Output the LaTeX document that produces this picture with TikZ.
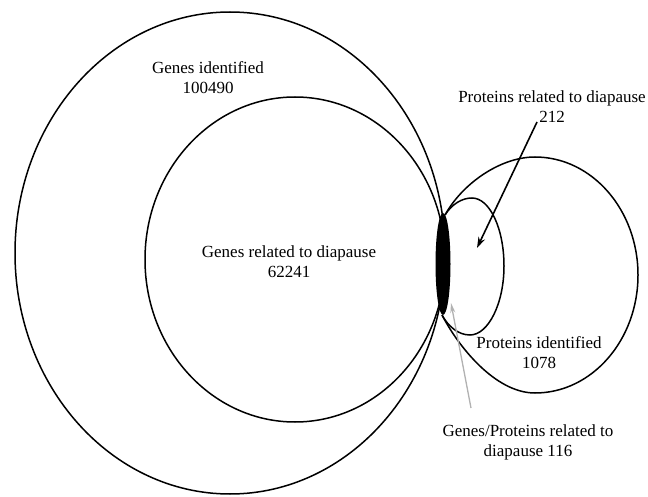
\documentclass[tikz,border=0pt]{standalone}
\usepackage{fontspec}
\setmainfont{Liberation Serif}
\usetikzlibrary{arrows.meta}
\begin{document}
\begin{tikzpicture}[x=1pt,y=1pt,
  lbl/.style={align=center,inner sep=0pt,font=\fontsize{17}{20}\selectfont},
  setline/.style={line width=1.5pt},
  blackarrow/.style={line width=1.6pt,-{Stealth[length=11pt,width=7pt]}},
  grayarrow/.style={draw=black!30,line width=1.3pt,-{Stealth[length=10pt,width=5pt]}}]
\useasboundingbox (0,0) rectangle (648,496);
% sets
\draw[setline] (230,243) ellipse (215 and 241);
\draw[setline] (295,236.5) ellipse (150 and 162.5);
\coordinate (A) at (445,281);
\coordinate (C) at (442,181);
\coordinate (T) at (535,339);
\coordinate (R) at (638,221);
\coordinate (B) at (535,103);
\draw[setline] (A) .. controls (462,312) and (500,339) .. (T)
  .. controls (591.9,339) and (638,286.1) .. (R)
  .. controls (638,155.9) and (591.9,103) .. (B)
  .. controls (495,103) and (458,150) .. (C);
\coordinate (T2) at (472,298);
\coordinate (R2) at (504,230);
\coordinate (B2) at (470,161);
\draw[setline] (A) .. controls (452,292) and (462,298) .. (T2)
  .. controls (489.7,298) and (504,267.5) .. (R2)
  .. controls (504,192) and (488,161) .. (B2)
  .. controls (458,161) and (448,170) .. (C);
\fill (443,232) ellipse (7.5 and 51);
% labels
\node[lbl] (g1) at (208,418) {Genes identified\\100490};
\node[lbl] (g2) at (289,234) {Genes related to diapause\\62241};
\node[lbl] (p1) at (552,389) {Proteins related to diapause\\212};
\node[lbl] (p2) at (539,143) {Proteins identified\\1078};
\node[lbl] (gp) at (528,54) {Genes/Proteins related to\\diapause 116};
% arrows
\coordinate (a1s) at (537,374);
\coordinate (a1e) at (477,248);
\coordinate (a2s) at (471,88);
\coordinate (a2e) at (451,193);
\draw[blackarrow] (a1s) -- (a1e);
\draw[grayarrow] (a2s) -- (a2e);
\end{tikzpicture}
\end{document}
